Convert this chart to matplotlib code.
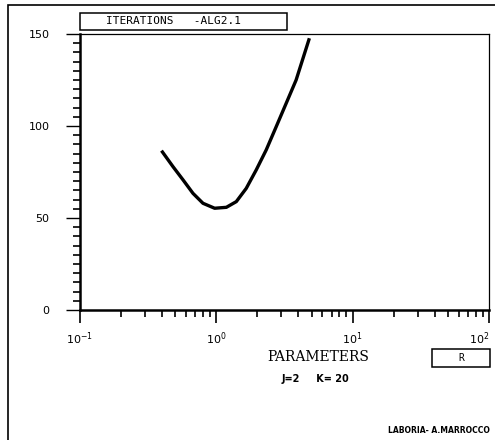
import numpy as np
import matplotlib.pyplot as plt
from matplotlib.ticker import LogLocator, MultipleLocator
from matplotlib.patches import Rectangle

# curve
param = [0.396, 0.481, 0.570, 0.674, 0.798, 0.972, 1.184, 1.401, 1.657,
         1.961, 2.322, 2.748, 3.252, 3.848, 4.814]
iterations = [86.6, 77.9, 70.7, 63.4, 58.0, 55.3, 55.8, 58.9, 66.1,
              76.1, 87.0, 99.6, 112.3, 125.0, 147.7]

y_ticks = [0, 50, 100, 150]
x_ticks = [0.1, 1, 10, 100]
x_tick_labels = [r"$10^{-1}$", r"$10^{0}$", r"$10^{1}$", r"$10^{2}$"]

W, H = 495, 440


def fx(px):
    return px / W


def fy(py):
    return 1 - py / H


fig = plt.figure(figsize=(4.95, 4.4), dpi=100)
ax = fig.add_axes([fx(80), fy(310), 409 / W, 276 / H])

ax.plot(param, iterations, color="black", lw=2.4, solid_capstyle="butt",
        solid_joinstyle="round")

ax.set_xscale("log")
ax.set_xlim(0.1, 100)
ax.set_ylim(0, 150)
ax.set_xticks(x_ticks)
ax.set_xticklabels(x_tick_labels, fontsize=8)
ax.get_xticklabels()[-1].set_horizontalalignment("right")
ax.xaxis.set_minor_locator(LogLocator(base=10, subs=np.arange(2, 10)))
ax.set_yticks(y_ticks)
ax.set_yticklabels([str(v) for v in y_ticks], fontsize=8)
ax.yaxis.set_minor_locator(MultipleLocator(5))

ax.tick_params(axis="x", which="major", direction="out", length=9, width=1.2, pad=6)
ax.tick_params(axis="x", which="minor", direction="out", length=5, width=1.2)
ax.tick_params(axis="y", which="major", direction="out", length=10, width=1.0, pad=12)
ax.tick_params(axis="y", which="minor", direction="out", length=5, width=1.2)

ax.spines["left"].set_linewidth(1.8)
ax.spines["bottom"].set_linewidth(1.8)
ax.spines["top"].set_linewidth(0.9)
ax.spines["right"].set_linewidth(0.9)

# outer frame of the page
fig.patches.append(Rectangle((fx(8), -0.05), 1.1, fy(5) + 0.05,
                             transform=fig.transFigure, fill=False,
                             lw=1.2, ec="black"))

# title box
fig.patches.append(Rectangle((fx(80), fy(30)), 207 / W, 17 / H,
                             transform=fig.transFigure, fc="white",
                             ec="black", lw=1.1, zorder=5))
fig.text(fx(106), fy(21.5), "ITERATIONS   -ALG2.1", family="DejaVu Sans Mono",
         fontsize=8, va="center", ha="left", zorder=6)

# axis name box
fig.patches.append(Rectangle((fx(432), fy(367)), 58 / W, 18 / H,
                             transform=fig.transFigure, fc="white",
                             ec="black", lw=1.1, zorder=5))
fig.text(fx(461), fy(358), "R", family="DejaVu Sans Mono", fontsize=7,
         va="center", ha="center", zorder=6)

fig.text(fx(318), fy(357), "PARAMETERS", family="DejaVu Serif",
         fontsize=10, ha="center", va="center")
fig.text(fx(315), fy(379), "J=2     K= 20", fontsize=7,
         ha="center", va="center", weight="bold")
fig.text(fx(490), fy(430), "LABORIA- A.MARROCCO", fontsize=5.5,
         ha="right", va="center", weight="bold")

fig.savefig("out.png", dpi=100)
